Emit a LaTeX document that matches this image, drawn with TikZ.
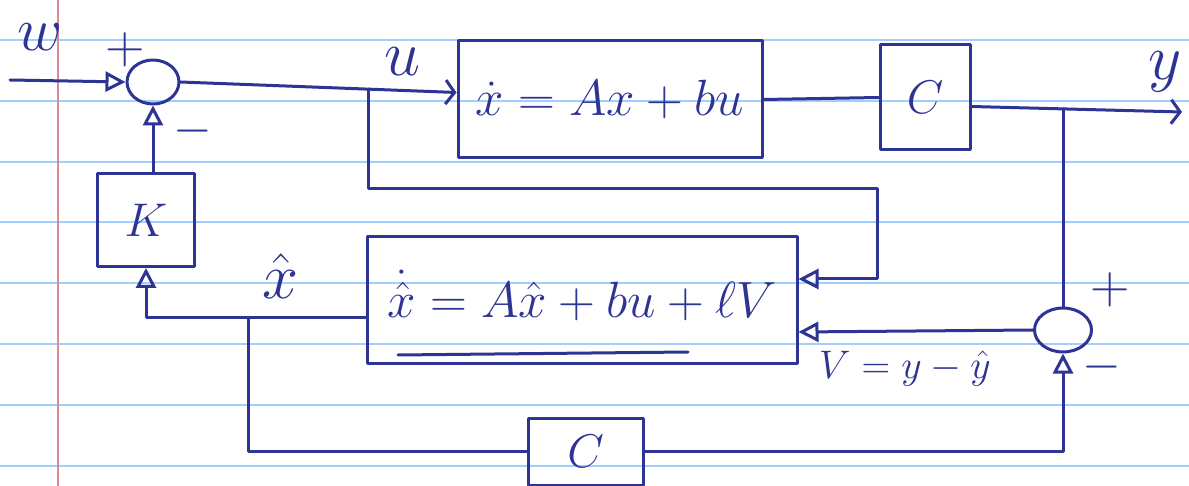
\documentclass[tikz,border=0pt]{standalone}
\usepackage{graphicx}
\usetikzlibrary{arrows.meta,shapes.geometric,calc}
\definecolor{ink}{RGB}{46,52,148}
\definecolor{rulecol}{RGB}{160,206,255}
\definecolor{margincol}{RGB}{214,140,150}
\newcommand\mybig[2]{\scalebox{#1}{\Huge #2}}
\begin{document}
\begin{tikzpicture}[x=1pt,y=-1pt,
  inkline/.style={draw=ink,line width=3pt,line cap=round,line join=round},
  blk/.style={inkline,rectangle,inner sep=0pt,text=ink},
  ell/.style={inkline,ellipse,inner sep=0pt},
  lbl/.style={text=ink,inner sep=0pt},
  tri/.style={inkline,-{Triangle[open,length=20pt,width=20pt,line width=3pt]}},
  barb/.style={inkline,-{Straight Barb[length=9pt,width=24pt,line width=3pt]}}]
% paper
\fill[white] (0,0) rectangle (1189,486);
\useasboundingbox (0,0) rectangle (1189,486);
\foreach \k in {0,...,7}{
  \pgfmathsetmacro{\yy}{40+60.8*\k}
  \draw[rulecol,line width=2pt] (0,\yy) -- (1189,\yy);
}
\draw[margincol,line width=2pt] (57.5,0) -- (57.5,486);
% blocks
\node[ell,minimum width=52pt,minimum height=44pt] (s1) at (153,82) {};
\node[blk,minimum width=304pt,minimum height=117pt] (main) at (610,99.5) {\mybig{2.05}{$\dot{x}=Ax+bu$}};
\node[blk,minimum width=90pt,minimum height=105pt] (c1) at (925,97.5) {\mybig{1.9}{$C$}};
\node[blk,minimum width=430pt,minimum height=126pt] (obs) at (582,300) {\raisebox{12pt}{\mybig{2.05}{$\dot{\hat{x}}=A\hat{x}+bu+\ell V$}}};
\node[blk,minimum width=97pt,minimum height=93pt] (K) at (146,220) {\mybig{1.9}{$K$}};
\node[blk,minimum width=115pt,minimum height=67pt] (c2) at (585.5,451.5) {\mybig{1.9}{$C$}};
\node[ell,minimum width=57pt,minimum height=44pt] (s2) at (1063,330) {};
% labels
\node[lbl] (lw) at (40,37) {\mybig{2.5}{$w$}};
\node[lbl] (p1) at (125,50) {\mybig{2.2}{$+$}};
\node[lbl] (m1) at (193,131) {\mybig{2.0}{$-$}};
\node[lbl] (lu) at (403,62) {\mybig{2.6}{$u$}};
\node[lbl] (ly) at (1165,72) {\mybig{2.6}{$y$}};
\node[lbl] (lx) at (280,276) {\mybig{2.6}{$\hat{x}$}};
\node[lbl] (p2) at (1110,290) {\mybig{2.2}{$+$}};
\node[lbl] (m2) at (1102,367) {\mybig{2.0}{$-$}};
\node[lbl] (lv) at (905,369) {\mybig{1.6}{$V=y-\hat{y}$}};
% coordinates
\coordinate (w) at (10,80);
\coordinate (uin) at ([yshift=7pt]main.west);
\coordinate (ub) at ($(s1.east)!0.68!(uin)$);
\coordinate (ur) at (877,189);
\coordinate (cout) at ([yshift=-9pt]c1.east);
\coordinate (yout) at (1182,112);
\coordinate (yb) at ($(cout)!0.44!(yout)$);
\coordinate (xin) at ([yshift=-18pt]obs.west);
\coordinate (xb) at ([shift={(-117pt,-18pt)}]obs.west);
% connectors
\draw[tri] (w) -- (s1.west);
\draw[barb] (s1.east) -- (uin);
\draw[tri] (ub) |- (ur) |- ([yshift=21pt]obs.east);
\draw[inkline] (main.east) -- (c1.west);
\draw[barb] (cout) -- (yout);
\draw[inkline] (s2.north |- yb) -- (s2.north);
\draw[tri] (s2.west) -- ([yshift=-32pt]obs.east);
\draw[tri] (c2.east) -| (s2.south);
\draw[tri] (xin) -| (K.south);
\draw[inkline] (xb) |- (c2.west);
\draw[tri] (K.north -| s1.south) -- (s1.south);
\draw[inkline] (398,355) -- (688,352);
\end{tikzpicture}
\end{document}
